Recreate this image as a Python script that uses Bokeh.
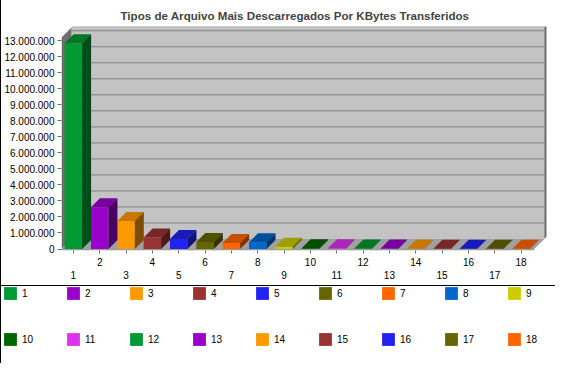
import numpy as np
from bokeh.plotting import figure
from bokeh.models import FixedTicker, LinearAxis, Legend, LegendItem, Range1d
from bokeh.embed import file_html
from bokeh.resources import INLINE

# ---------------- data ----------------
title_text = "Tipos de Arquivo Mais Descarregados Por KBytes Transferidos"
categories = ["1", "2", "3", "4", "5", "6", "7", "8", "9",
              "10", "11", "12", "13", "14", "15", "16", "17", "18"]
kbytes = [12850000, 2600000, 1750000, 720000, 620000, 430000, 380000, 420000, 140000,
          50000, 40000, 30000, 25000, 20000, 18000, 15000, 12000, 10000]
colors = ["#009933", "#9900cc", "#ff9900", "#993333", "#2222ee", "#666600",
          "#ff6600", "#0066cc", "#cccc00", "#006600", "#dd33ee", "#009933",
          "#9900cc", "#ff9900", "#993333", "#2222ee", "#666600", "#ff6600"]
y_ticks = [0, 1000000, 2000000, 3000000, 4000000, 5000000, 6000000, 7000000,
           8000000, 9000000, 10000000, 11000000, 12000000, 13000000]
y_tick_labels = ["0", "1.000.000", "2.000.000", "3.000.000", "4.000.000", "5.000.000",
                 "6.000.000", "7.000.000", "8.000.000", "9.000.000", "10.000.000",
                 "11.000.000", "12.000.000", "13.000.000"]
y_axis_max = 13200000

# ---------------- layout ----------------
FIG_W, CHART_H, LEG_H = 555, 285, 78
FRAME_L, FRAME_R, FRAME_T, FRAME_B = 60, 545, 26, 250
SLOT = 26.34            # px per category
PXU = 16.02 / 1e6       # px per KByte
ZERO_PX = 248.5
X_START = 0.55

n = len(categories)
x_end = X_START + (FRAME_R - FRAME_L) / SLOT
y_start = -(FRAME_B - ZERO_PX) / PXU
y_end = (ZERO_PX - FRAME_T) / PXU

X0, X1 = X_START, n + 0.5
DX, DY = 10 / SLOT, 10 / PXU        # wall depth
BDX, BDY = 9 / SLOT, 9 / PXU        # bar depth
BW = 17.5 / SLOT                    # bar front width
RX, RY = 3 / SLOT, 3 / PXU          # wall rim thickness

FONT = "Liberation Sans"


def shade(hexc, f):
    h = hexc.lstrip("#")
    r, g, b = (int(h[i:i + 2], 16) for i in (0, 2, 4))
    return "#%02x%02x%02x" % (int(r * f), int(g * f), int(b * f))


p = figure(width=FIG_W, height=CHART_H,
           x_range=Range1d(X_START, x_end), y_range=Range1d(y_start, y_end),
           min_border_left=FRAME_L, min_border_right=FIG_W - FRAME_R,
           min_border_top=FRAME_T, min_border_bottom=CHART_H - FRAME_B,
           toolbar_location=None, output_backend="svg",
           styles={"border-left": "1px solid black"})
p.outline_line_color = None
p.background_fill_color = "white"
p.border_fill_color = "white"
p.xgrid.visible = False
p.ygrid.visible = False

p.title.text = title_text
p.title.text_font = FONT
p.title.text_font_style = "bold"
p.title.text_font_size = "11.6px"
p.title.align = "left"
p.title.offset = 59
p.title.standoff = 9

# ---------------- 3D box ----------------
# floor
p.patch([X0, X1, X1 + DX, X0 + DX], [0, 0, DY, DY], fill_color="#a0a0a0", line_color=None)
p.patch([X0, X1, X1, X0], [0, 0, y_start, y_start], fill_color="#9a9a9a", line_color=None)
# back wall
p.quad(left=X0 + DX, right=X1 + DX, bottom=DY, top=y_axis_max + DY,
       fill_color="#c3c3c3", line_color=None)
# back wall top rim
p.patch([X0 + DX, X1 + DX, X1 + DX + RX, X0 + DX + RX],
        [y_axis_max + DY, y_axis_max + DY, y_axis_max + DY + RY, y_axis_max + DY + RY],
        fill_color="#9c9c9c", line_color=None)
# right side of wall + floor
p.patch([X1 + DX, X1 + DX + RX, X1 + DX + RX, X1 + RX, X1, X1 + DX],
        [y_axis_max + DY, y_axis_max + DY + RY, DY + RY, RY, 0, DY],
        fill_color="#6e6e6e", line_color=None)
# left wall
p.patch([X0, X0, X0 + DX, X0 + DX], [0, y_axis_max, y_axis_max + DY, DY],
        fill_color="#6e6e6e", line_color=None)
p.patch([X0, X0 + DX, X0 + DX + RX, X0 + RX],
        [y_axis_max, y_axis_max + DY, y_axis_max + DY + RY, y_axis_max + RY],
        fill_color="#9c9c9c", line_color=None)
# grid lines on back wall
gy = np.array(y_ticks[1:], dtype=float) + DY
p.segment(x0=X0 + DX, x1=X1 + DX, y0=gy, y1=gy, line_color="#808080", line_width=1)

# ---------------- bars ----------------
xs = np.arange(1, n + 1, dtype=float)
v = np.array(kbytes, dtype=float)
p.quad(left=xs - BW / 2, right=xs + BW / 2, bottom=0, top=v,
       fill_color=colors, line_color=None)
top_xs = [[x - BW / 2, x + BW / 2, x + BW / 2 + BDX, x - BW / 2 + BDX] for x in xs]
top_ys = [[y, y, y + BDY, y + BDY] for y in v]
p.patches(top_xs, top_ys, fill_color=[shade(c, 0.78) for c in colors], line_color=None)
side_xs = [[x + BW / 2, x + BW / 2 + BDX, x + BW / 2 + BDX, x + BW / 2] for x in xs]
side_ys = [[0, BDY, y + BDY, y] for y in v]
p.patches(side_xs, side_ys, fill_color=[shade(c, 0.5) for c in colors], line_color=None)

# ---------------- axes ----------------
ya = p.yaxis[0]
ya.ticker = FixedTicker(ticks=y_ticks)
ya.major_label_overrides = {t: s for t, s in zip(y_ticks, y_tick_labels)}
ya.axis_line_color = None
ya.major_tick_out = 4
ya.major_tick_in = 0
ya.major_tick_line_color = "#707070"
ya.minor_tick_line_color = None
ya.major_label_standoff = 3
ya.major_label_text_font = FONT
ya.major_label_text_font_size = "10px"
ya.major_label_text_color = "black"

positions = [float(i + 1) for i in range(n)]
xa = p.xaxis[0]
xa.ticker = FixedTicker(ticks=positions)
xa.major_label_overrides = {pos: (lab if k % 2 == 1 else "") for k, (pos, lab) in enumerate(zip(positions, categories))}
xa.axis_line_color = None
xa.major_tick_out = 3
xa.major_tick_in = 0
xa.major_tick_line_color = "#707070"
xa.minor_tick_line_color = None
xa.major_label_standoff = 4
xa.major_label_text_font = FONT
xa.major_label_text_font_size = "10px"
xa.major_label_text_color = "black"

xb = LinearAxis(ticker=FixedTicker(ticks=positions[0::2]))
xb.major_label_overrides = {pos: lab for pos, lab in zip(positions[0::2], categories[0::2])}
xb.axis_line_color = None
xb.major_tick_out = 0
xb.major_tick_in = 0
xb.major_tick_line_color = None
xb.minor_tick_line_color = None
xb.major_label_standoff = 2
xb.major_label_text_font = FONT
xb.major_label_text_font_size = "10px"
xb.major_label_text_color = "black"
p.add_layout(xb, "below")

# ---------------- legend (separate root, frame = whole canvas) ----------------
lf = figure(width=FIG_W, height=LEG_H, x_range=Range1d(0, 1), y_range=Range1d(0, 1),
            x_axis_type=None, y_axis_type=None,
            min_border=0, min_border_left=0, min_border_right=0,
            min_border_top=0, min_border_bottom=0,
            toolbar_location=None, output_backend="svg",
            styles={"border-top": "1px solid black", "border-left": "1px solid black"})
lf.outline_line_color = None
lf.xgrid.visible = False
lf.ygrid.visible = False

items = []
for lab, c in zip(categories, colors):
    r = lf.quad(left=[np.nan], right=[np.nan], top=[np.nan], bottom=[np.nan],
                fill_color=c, line_color=None)
    items.append(LegendItem(label=lab, renderers=[r]))

half = n // 2
for row, ly in ((0, 63), (1, 17)):
    lg = Legend(items=items[row * half:(row + 1) * half], location=(1, ly),
                orientation="horizontal", glyph_width=16, glyph_height=16,
                label_standoff=4, label_width=43, label_height=16, spacing=0,
                padding=0, margin=0, border_line_color=None, background_fill_alpha=0,
                label_text_font=FONT, label_text_font_size="10px",
                label_text_color="black")
    lf.add_layout(lg, "center")

open("out.html", "w").write(file_html([p, lf], INLINE))
